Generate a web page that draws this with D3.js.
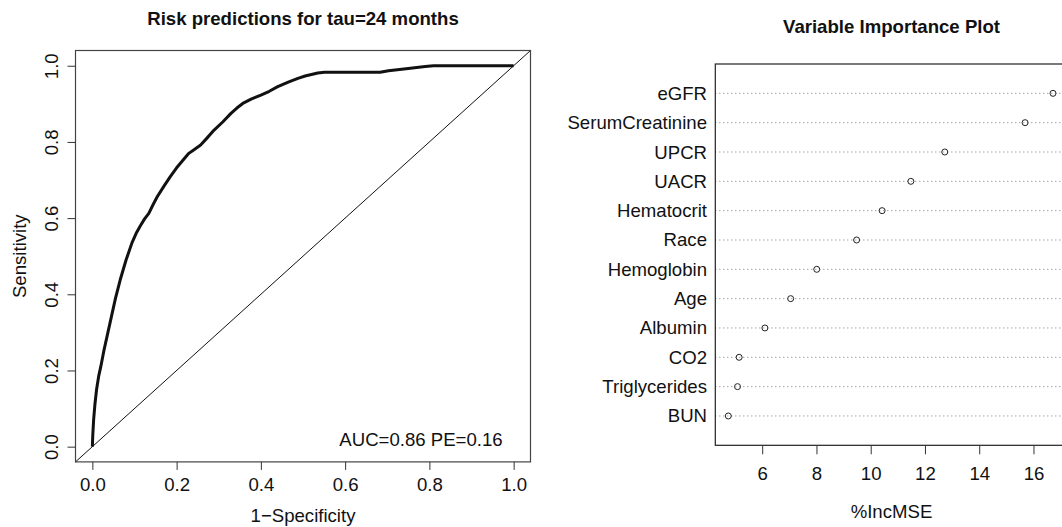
<!DOCTYPE html>
<html>
<head>
<meta charset="utf-8">
<script src="https://cdn.jsdelivr.net/npm/d3@7"></script>
<style>
  html, body { margin: 0; padding: 0; background: #fff; }
  svg { display: block; font-family: "Liberation Sans", Arial, Helvetica, sans-serif; }
</style>
</head>
<body>
<svg id="chart" width="1062" height="527"></svg>
<script>
// ---- ROC data ----
const rocFpr = [0, 0.001, 0.003, 0.006, 0.01, 0.015, 0.02, 0.027, 0.035, 0.045, 0.055, 0.066, 0.08, 0.094, 0.104, 0.114, 0.124, 0.134, 0.144, 0.154, 0.17, 0.185, 0.2, 0.215, 0.229, 0.243, 0.257, 0.272, 0.289, 0.31, 0.329, 0.343, 0.357, 0.378, 0.4, 0.42, 0.44, 0.465, 0.488, 0.505, 0.52, 0.535, 0.551, 0.6, 0.65, 0.683, 0.703, 0.75, 0.79, 0.81, 0.9, 1.0];
const rocTpr = [0, 0.03, 0.07, 0.11, 0.15, 0.185, 0.21, 0.25, 0.29, 0.34, 0.39, 0.4375, 0.49, 0.535, 0.56, 0.58, 0.598, 0.6125, 0.635, 0.656, 0.684, 0.709, 0.732, 0.752, 0.770, 0.781, 0.792, 0.81, 0.831, 0.853, 0.875, 0.889, 0.901, 0.913, 0.923, 0.933, 0.945, 0.957, 0.967, 0.973, 0.977, 0.981, 0.983, 0.983, 0.983, 0.983, 0.987, 0.993, 0.998, 1.0, 1.0, 1.0];
const rocTicks = [0, 0.2, 0.4, 0.6, 0.8, 1.0];
const rocTitle = "Risk predictions for tau=24 months";
const rocXLabel = "1\u2212Specificity";
const rocYLabel = "Sensitivity";
const rocNote = "AUC=0.86 PE=0.16";

// ---- Variable importance data ----
const varNames = ["eGFR", "SerumCreatinine", "UPCR", "UACR", "Hematocrit", "Race", "Hemoglobin", "Age", "Albumin", "CO2", "Triglycerides", "BUN"];
const incMSE = [16.72, 15.69, 12.73, 11.48, 10.42, 9.48, 8.01, 7.05, 6.10, 5.15, 5.09, 4.75];
const mseTicks = [6, 8, 10, 12, 14, 16];
const impTitle = "Variable Importance Plot";
const impXLabel = "%IncMSE";

const svg = d3.select("#chart");
const FS = 18.6;

// ================= Left panel: ROC =================
const L = { left: 75.5, right: 530.5, top: 50.5, bottom: 461.9 };
const xRoc = d3.scaleLinear().domain([-0.04, 1.04]).range([L.left, L.right]);
const yRoc = d3.scaleLinear().domain([-0.04, 1.04]).range([L.bottom, L.top]);

const gL = svg.append("g");

// diagonal reference line (abline 0,1) spanning plot region
gL.append("line")
  .attr("x1", xRoc(-0.04)).attr("y1", yRoc(-0.04))
  .attr("x2", xRoc(1.04)).attr("y2", yRoc(1.04))
  .attr("stroke", "#111").attr("stroke-width", 1);

// ROC curve
const rocPts = rocFpr.map((f, i) => [f, rocTpr[i]]);
gL.append("path")
  .datum(rocPts)
  .attr("d", d3.line().x(d => xRoc(d[0])).y(d => yRoc(d[1])))
  .attr("fill", "none").attr("stroke", "#111").attr("stroke-width", 3)
  .attr("stroke-linejoin", "round");

// box
gL.append("rect")
  .attr("x", L.left).attr("y", L.top)
  .attr("width", L.right - L.left).attr("height", L.bottom - L.top)
  .attr("fill", "none").attr("stroke", "#444").attr("stroke-width", 1.2);

// x axis
const axXL = gL.append("g").attr("transform", `translate(0,${L.bottom})`)
  .call(d3.axisBottom(xRoc).tickValues(rocTicks).tickFormat(d3.format(".1f")).tickSize(8).tickSizeOuter(0));
axXL.select(".domain").remove();
axXL.selectAll("line").attr("stroke", "#333");
axXL.selectAll("text").attr("y", 29).attr("dy", null)
  .attr("font-size", FS).attr("font-family", null).attr("fill", "#111");

// y axis
const axYL = gL.append("g").attr("transform", `translate(${L.left},0)`)
  .call(d3.axisLeft(yRoc).tickValues(rocTicks).tickFormat(d3.format(".1f")).tickSize(8).tickSizeOuter(0));
axYL.select(".domain").remove();
axYL.selectAll("line").attr("stroke", "#333");
axYL.selectAll("text")
  .attr("x", 0).attr("y", -17.2).attr("dy", null)
  .attr("transform", "rotate(-90)")
  .attr("text-anchor", "middle")
  .attr("font-size", FS).attr("font-family", null).attr("fill", "#111");

// titles / labels
gL.append("text").attr("x", (L.left + L.right) / 2).attr("y", 25)
  .attr("text-anchor", "middle").attr("font-weight", "bold").attr("font-size", FS)
  .attr("fill", "#111").text(rocTitle);
gL.append("text").attr("x", (L.left + L.right) / 2).attr("y", 521.5)
  .attr("text-anchor", "middle").attr("font-size", FS).attr("fill", "#111").text(rocXLabel);
gL.append("text").attr("transform", `translate(26,${(L.top + L.bottom) / 2}) rotate(-90)`)
  .attr("text-anchor", "middle").attr("font-size", FS).attr("fill", "#111").text(rocYLabel);
gL.append("text").attr("x", xRoc(0.78)).attr("y", yRoc(0) - 1)
  .attr("text-anchor", "middle").attr("font-size", FS).attr("fill", "#111").text(rocNote);

// ================= Right panel: Variable importance =================
const R = { left: 715.3, right: 1066, top: 64, bottom: 445.3 };
const mn = d3.min(incMSE), mx = d3.max(incMSE), rg = mx - mn;
const xImp = d3.scaleLinear().domain([mn - 0.04 * rg, mx + 0.04 * rg]).range([R.left, R.right]);
const yImp = d3.scaleLinear().domain([0, varNames.length + 1]).range([R.bottom, R.top]);
const pos = (i) => varNames.length - i;

const gR = svg.append("g");

// dotted guide lines
gR.selectAll("line.guide").data(varNames).enter().append("line")
  .attr("class", "guide")
  .attr("x1", R.left).attr("x2", R.right)
  .attr("y1", (d, i) => yImp(pos(i))).attr("y2", (d, i) => yImp(pos(i)))
  .attr("stroke", "#7a7a7a").attr("stroke-width", 1).attr("stroke-dasharray", "1,3");

// points
gR.selectAll("circle").data(incMSE).enter().append("circle")
  .attr("cx", d => xImp(d)).attr("cy", (d, i) => yImp(pos(i)))
  .attr("r", 3).attr("fill", "none").attr("stroke", "#222").attr("stroke-width", 1);

// box
gR.append("rect")
  .attr("x", R.left).attr("y", R.top)
  .attr("width", R.right - R.left).attr("height", R.bottom - R.top)
  .attr("fill", "none").attr("stroke", "#222").attr("stroke-width", 1.2);

// category labels
gR.selectAll("text.cat").data(varNames).enter().append("text")
  .attr("class", "cat")
  .attr("x", 707).attr("y", (d, i) => yImp(pos(i))).attr("dy", "0.35em")
  .attr("text-anchor", "end").attr("font-size", FS).attr("fill", "#111").text(d => d);

// x axis
const axXR = gR.append("g").attr("transform", `translate(0,${R.bottom})`)
  .call(d3.axisBottom(xImp).tickValues(mseTicks).tickSize(9).tickSizeOuter(0));
axXR.select(".domain").remove();
axXR.selectAll("line").attr("stroke", "#333");
axXR.selectAll("text").attr("y", 34.7).attr("dy", null)
  .attr("font-size", FS).attr("font-family", null).attr("fill", "#111");

gR.append("text").attr("x", 891.5).attr("y", 33)
  .attr("text-anchor", "middle").attr("font-weight", "bold").attr("font-size", FS)
  .attr("fill", "#111").text(impTitle);
gR.append("text").attr("x", 891.5).attr("y", 518)
  .attr("text-anchor", "middle").attr("font-size", FS).attr("fill", "#111").text(impXLabel);
</script>
</body>
</html>
